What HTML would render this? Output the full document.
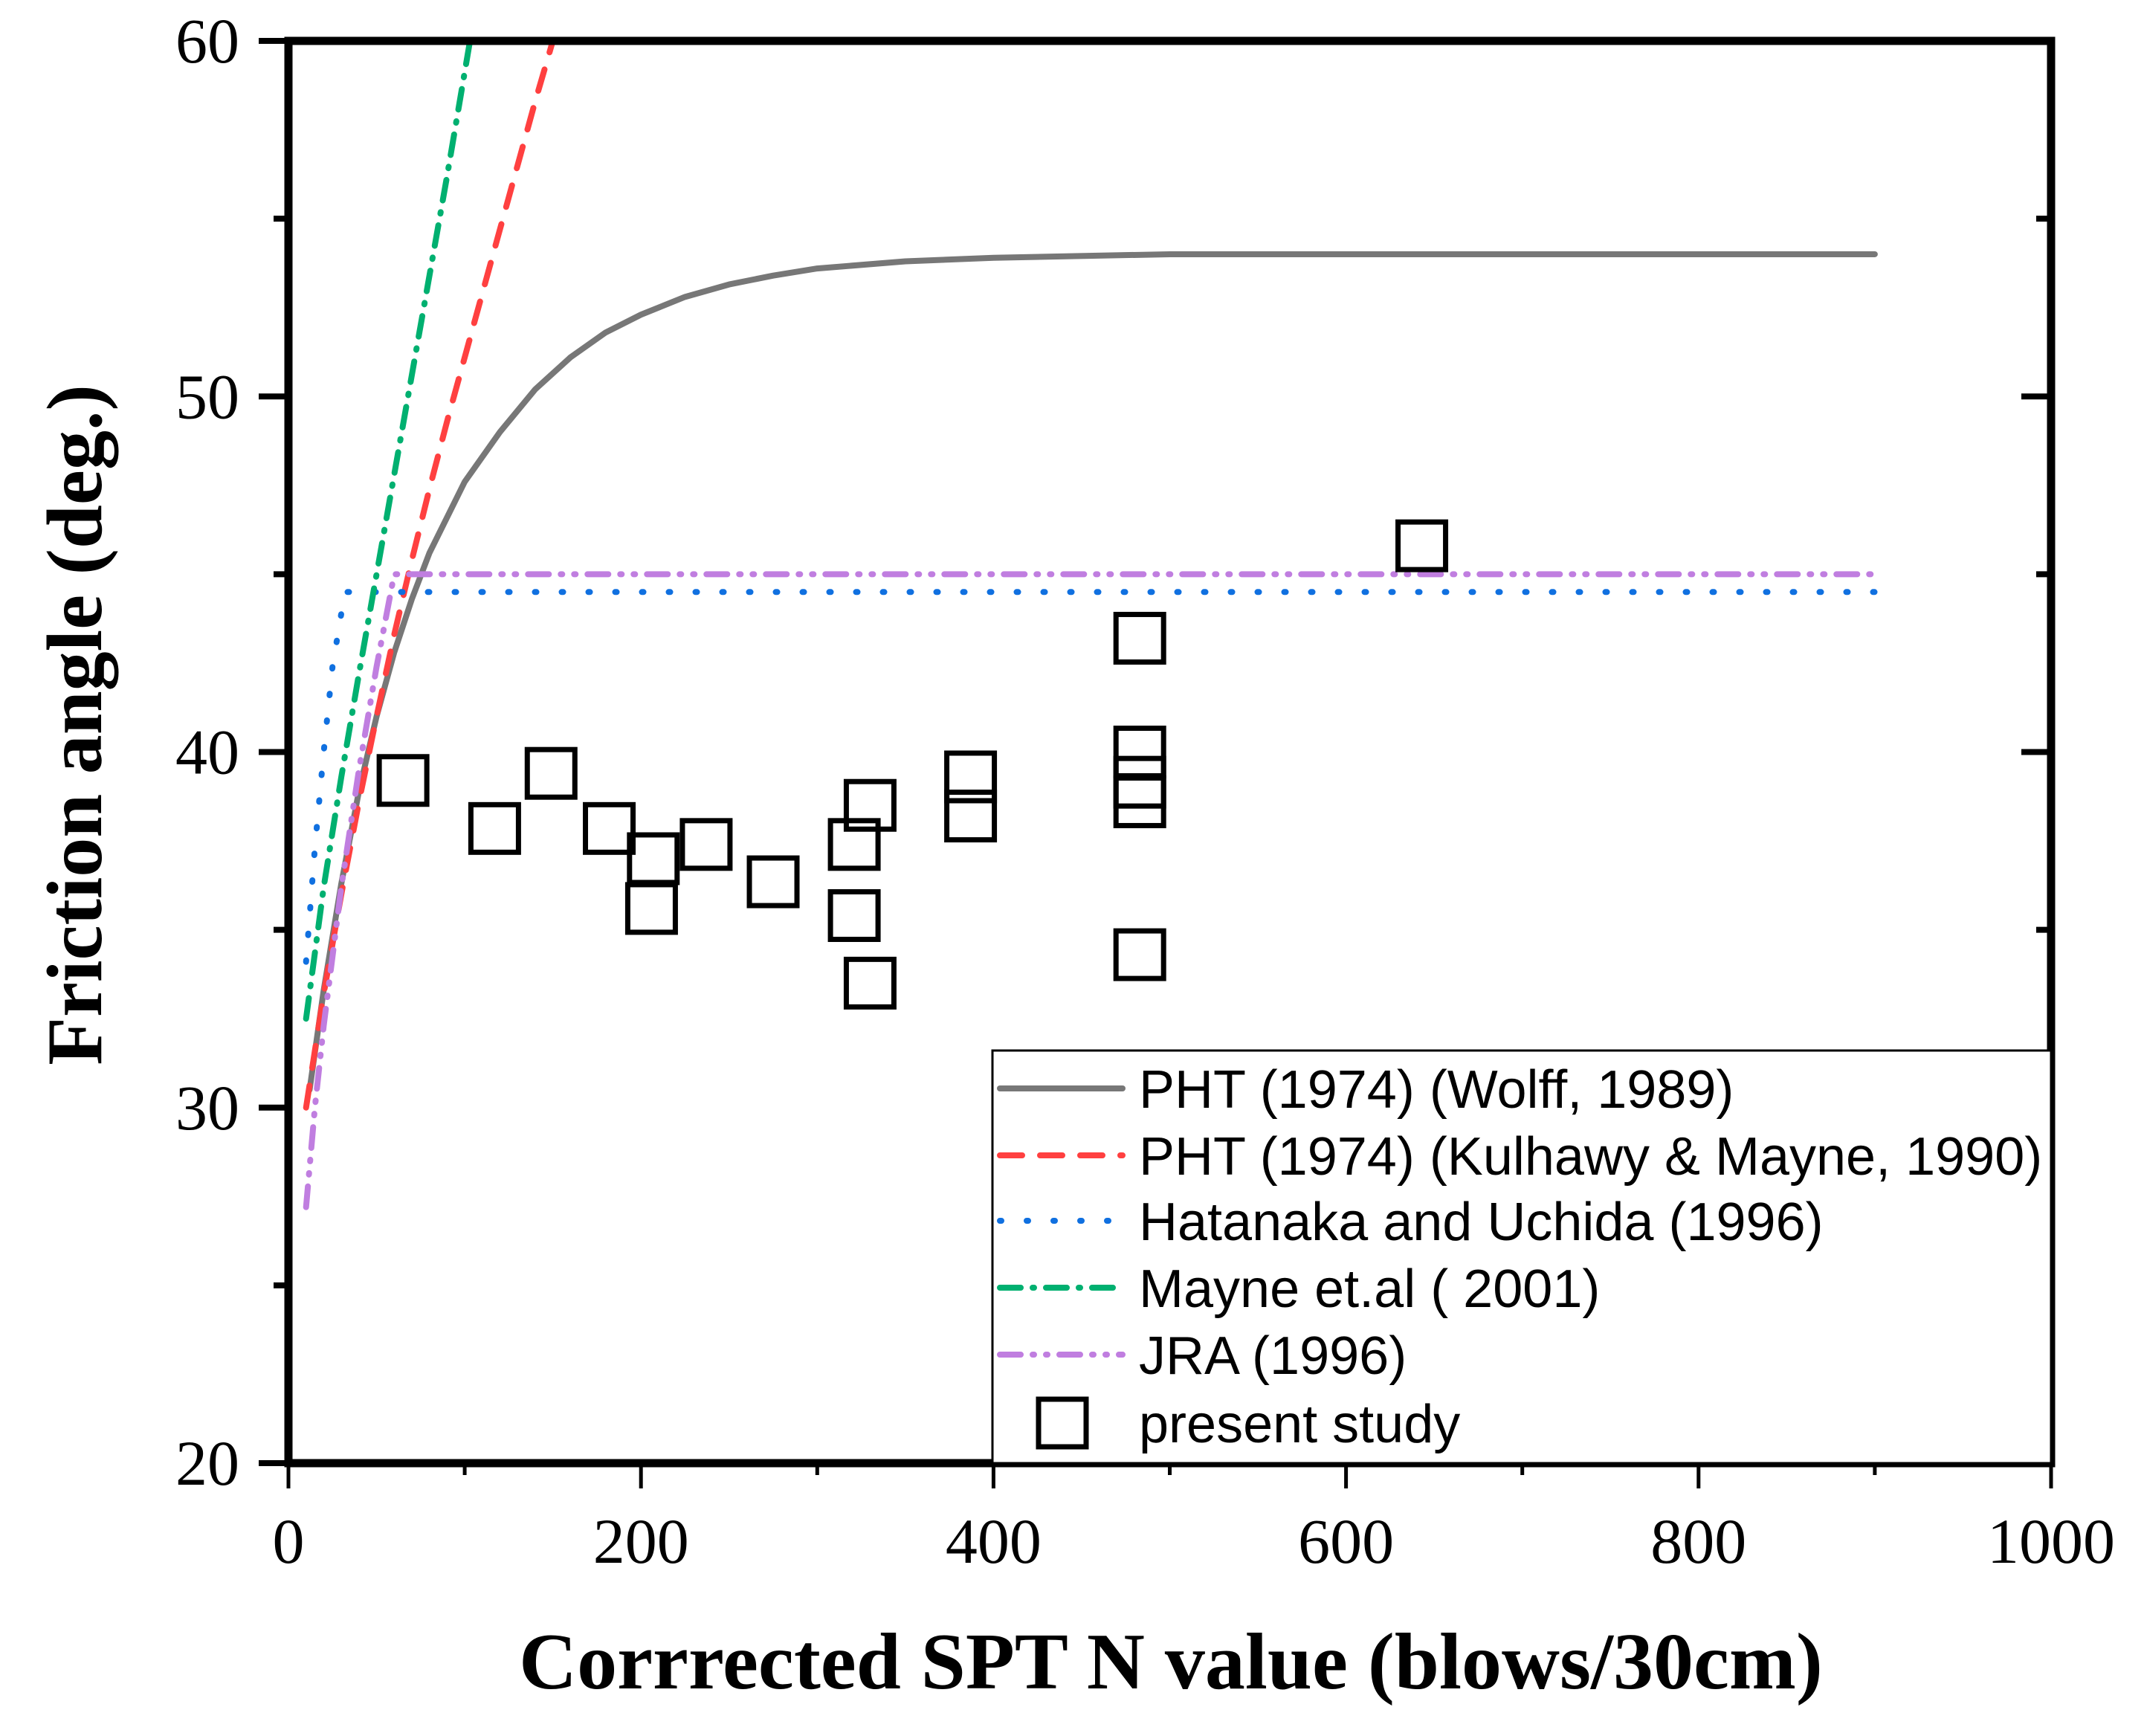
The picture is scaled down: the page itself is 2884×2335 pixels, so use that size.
<!DOCTYPE html>
<html><head><meta charset="utf-8"><style>
html,body{margin:0;padding:0;background:#fff;}
svg{display:block;}
</style></head><body>
<svg id="chart" width="2884" height="2335" viewBox="0 0 2884 2335" xmlns="http://www.w3.org/2000/svg">
<g id="series"></g>
<g id="axes"></g>
<g id="legend"></g>
</svg>
<script>
const xTicks = [0,200,400,600,800,1000];
const yTicks = [20,30,40,50,60];
const wolffN = [12,20,30,40,50,60,70,80,100,120,140,160,180,200,225,250,275,300,350,400,500,900];
const wolffPhi = [30.5,33.3,36.3,38.9,41.0,42.8,44.3,45.6,47.6,49.0,50.2,51.1,51.8,52.3,52.8,53.15,53.4,53.6,53.8,53.9,54,54];
const kulN = [10,20,30,40,50,60,70,80,90,100,110,120,130,140,150];
const kulPhi = [30,33.2,36,38.6,41,43.3,45.4,47.4,49.3,51.1,52.9,54.7,56.5,58.3,60];
const mayN = [10,20,30,40,50,60,70,80,90,103];
const mayPhi = [32.5,36.2,39.3,42.2,45,47.8,50.6,53.4,56.2,60];
const hatN = [10,15,20,25,32,900];
const hatPhi = [34.1,37.3,40,42.4,44.5,44.5];
const jraN = [10,15,20,30,40,50,60,70,900];
const jraPhi = [27.2,30,32.3,36.2,39.5,42.4,45,45,45];
const studyN = [65,117,149,182,207,206,237,275,321,321,330,330,387,387,483,483,483,483,483,643];
const studyPhi = [39.2,37.85,39.4,37.85,37.0,35.6,37.4,36.35,37.4,35.4,38.5,33.5,39.3,38.2,43.2,40.0,39.15,38.6,34.3,45.8];

const L=388,R=2759,T=55,B=1968;
const xs=v=>L+(v-0)/1000*(R-L);
const ys=v=>B-(v-20)/40*(B-T);
const NS='http://www.w3.org/2000/svg';
function mk(tag,attrs,parent){const e=document.createElementNS(NS,tag);for(const k in attrs)e.setAttribute(k,attrs[k]);parent.appendChild(e);return e;}
const sg=document.getElementById('series'),ag=document.getElementById('axes'),lg=document.getElementById('legend');

const defs=mk('clipPath',{id:'clip'},document.getElementById('chart'));
mk('rect',{x:L,y:T,width:R-L,height:B-T},defs);
sg.setAttribute('clip-path','url(#clip)');

const styles=[
 {name:'wolff-curve',n:wolffN,p:wolffPhi,c:'#777777',d:'',label:'PHT (1974) (Wolff, 1989)'},
 {name:'kulhawy-curve',n:kulN,p:kulPhi,c:'#ff4040',d:'30 24',label:'PHT (1974) (Kulhawy & Mayne, 1990)'},
 {name:'hatanaka-curve',n:hatN,p:hatPhi,c:'#1070e0',d:'2 34',label:'Hatanaka and Uchida (1996)'},
 {name:'mayne-curve',n:mayN,p:mayPhi,c:'#00b070',d:'28 16 2 16',label:'Mayne et.al ( 2001)'},
 {name:'jra-curve',n:jraN,p:jraPhi,c:'#c07ee0',d:'28 16 2 16 2 16',label:'JRA (1996)'}
];
styles.forEach(s=>{
 const pts=s.n.map((v,i)=>xs(v)+','+ys(s.p[i])).join(' ');
 const e=mk('polyline',{points:pts,fill:'none',stroke:s.c,'stroke-width':8,'stroke-dasharray':s.d,'stroke-linecap':'round','stroke-linejoin':'round'},sg);
 
 
});
studyN.forEach((v,i)=>{
 const e=mk('rect',{x:xs(v)-32,y:ys(studyPhi[i])-32,width:64,height:64,fill:'none',stroke:'#000','stroke-width':7},sg);
 
 
});

const fr=mk('rect',{x:L,y:T,width:R-L,height:B-T,fill:'none',stroke:'#000','stroke-width':11},ag);


for(let v=0;v<=1000;v+=100){
 const major=v%200===0;
 const t=mk('line',{x1:xs(v),x2:xs(v),y1:B,y2:B+(major?34:16),stroke:'#000','stroke-width':5},ag);
 
 
}
xTicks.forEach(v=>{
 const t=mk('text',{x:xs(v),y:2102,'text-anchor':'middle','font-family':'Liberation Serif, serif','font-size':86},ag);
 t.textContent=v;
 
 
});
for(let v=20;v<=60;v+=5){
 const major=v%10===0;
 const len=major?40:20;
 const t1=mk('line',{x1:L-len,x2:L,y1:ys(v),y2:ys(v),stroke:'#000','stroke-width':8},ag);
 
 
 const t2=mk('line',{x1:R-len,x2:R,y1:ys(v),y2:ys(v),stroke:'#000','stroke-width':8},ag);
 
 
}
yTicks.forEach(v=>{
 const t=mk('text',{x:322,y:ys(v)+29,'text-anchor':'end','font-family':'Liberation Serif, serif','font-size':86},ag);
 t.textContent=v;
 
 
});
const xt=mk('text',{x:1575,y:2271,'text-anchor':'middle','font-family':'Liberation Serif, serif','font-size':108,'font-weight':'bold'},ag);
xt.textContent='Corrrected SPT N value (blows/30cm)';


const yt=mk('text',{x:0,y:0,'text-anchor':'middle','font-family':'Liberation Serif, serif','font-size':106,'font-weight':'bold',transform:'translate(136,975) rotate(-90)'},ag);
yt.textContent='Friction angle (deg.)';



const lb=mk('rect',{x:1335,y:1413,width:R-1335,height:B-1413,fill:'#fff',stroke:'#000','stroke-width':3},lg);


const rows=[1464,1554,1642,1732,1822,1914];
styles.forEach((s,i)=>{
 const l=mk('line',{x1:1345,x2:1510,y1:rows[i],y2:rows[i],stroke:s.c,'stroke-width':8,'stroke-dasharray':s.d,'stroke-linecap':'round'},lg);
 
 
 const t=mk('text',{x:1532,y:rows[i]+26,'font-family':'Liberation Sans, sans-serif','font-size':72},lg);
 t.textContent=s.label;
 
 
});
const lr=mk('rect',{x:1397,y:rows[5]-32,width:64,height:64,fill:'none',stroke:'#000','stroke-width':7},lg);


const lt=mk('text',{x:1532,y:rows[5]+26,'font-family':'Liberation Sans, sans-serif','font-size':72},lg);
lt.textContent='present study';


</script>
</body></html>
